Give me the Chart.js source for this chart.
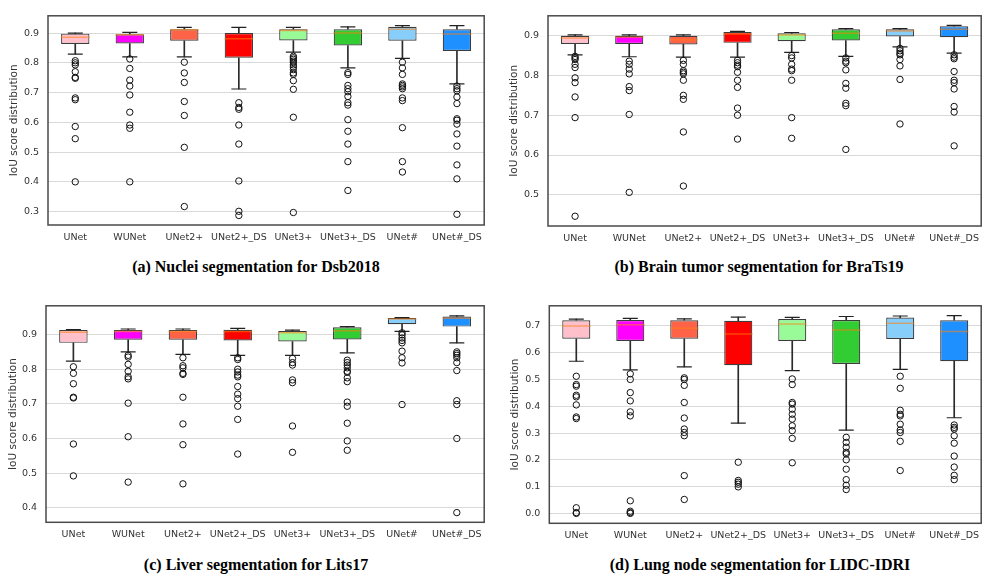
<!DOCTYPE html>
<html>
<head>
<meta charset="utf-8">
<script src="https://cdn.jsdelivr.net/npm/chart.js@4.4.1/dist/chart.umd.min.js"></script>
<style>
  html, body { margin: 0; padding: 0; background: #fff; }
  body { width: 997px; height: 583px; position: relative; overflow: hidden; }
  .panel { position: absolute; }
  .cap { position: absolute; font-family: "Liberation Serif", "Times New Roman", serif; font-weight: bold; font-size: 16px; color: #000; white-space: nowrap; transform: translateX(-50%); }
</style>
</head>
<body>
<div class="panel" style="left:0;top:0;width:500px;height:250px"><canvas id="ca"></canvas></div>
<div class="panel" style="left:500px;top:0;width:497px;height:250px"><canvas id="cb"></canvas></div>
<div class="panel" style="left:0;top:290px;width:500px;height:250px"><canvas id="cc"></canvas></div>
<div class="panel" style="left:500px;top:290px;width:497px;height:250px"><canvas id="cd"></canvas></div>
<div class="cap" style="left:256px;top:258px">(a) Nuclei segmentation for Dsb2018</div>
<div class="cap" style="left:759px;top:258px">(b) Brain tumor segmentation for BraTs19</div>
<div class="cap" style="left:256px;top:556px">(c) Liver segmentation for Lits17</div>
<div class="cap" style="left:760px;top:556px">(d) Lung node segmentation for LIDC-IDRI</div>
<script>
// ---------------- DATA ----------------
const categories = ['UNet', 'WUNet', 'UNet2+', 'UNet2+_DS', 'UNet3+', 'UNet3+_DS', 'UNet#', 'UNet#_DS'];
const boxColors = ['#FFC0CB', '#FF00FF', '#FF6347', '#FF0000', '#98FB98', '#32CD32', '#87CEFA', '#1E90FF'];
const yTitle = 'IoU score distribution';

// (a) Dsb2018
const aTicks = [0.3, 0.4, 0.5, 0.6, 0.7, 0.8, 0.9];
const aLow = [0.829, 0.820, 0.820, 0.712, 0.836, 0.783, 0.815, 0.729];
const aQ1 = [0.863, 0.865, 0.874, 0.817, 0.875, 0.858, 0.874, 0.840];
const aMed = [0.886, 0.894, 0.911, 0.881, 0.909, 0.900, 0.913, 0.897];
const aQ3 = [0.898, 0.896, 0.913, 0.900, 0.913, 0.913, 0.921, 0.913];
const aHigh = [0.900, 0.902, 0.919, 0.919, 0.919, 0.921, 0.925, 0.925];
const aOut = [
  [0.807, 0.800, 0.793, 0.770, 0.751, 0.748, 0.682, 0.676, 0.586, 0.545, 0.400],
  [0.813, 0.781, 0.742, 0.722, 0.692, 0.634, 0.591, 0.580, 0.400],
  [0.802, 0.766, 0.734, 0.670, 0.623, 0.516, 0.317],
  [0.666, 0.650, 0.644, 0.591, 0.527, 0.403, 0.301, 0.287],
  [0.822, 0.817, 0.812, 0.806, 0.801, 0.793, 0.786, 0.777, 0.766, 0.761, 0.740, 0.711, 0.617, 0.297],
  [0.767, 0.761, 0.724, 0.713, 0.703, 0.687, 0.666, 0.658, 0.609, 0.570, 0.527, 0.468, 0.371],
  [0.802, 0.783, 0.761, 0.729, 0.724, 0.719, 0.713, 0.682, 0.673, 0.582, 0.468, 0.433],
  [0.722, 0.713, 0.706, 0.685, 0.663, 0.612, 0.607, 0.594, 0.561, 0.520, 0.457, 0.410, 0.291]
];

// (b) BraTs19
const bTicks = [0.5, 0.6, 0.7, 0.8, 0.9];
const bLow = [0.852, 0.847, 0.846, 0.846, 0.858, 0.848, 0.872, 0.856];
const bQ1 = [0.879, 0.879, 0.878, 0.882, 0.886, 0.888, 0.898, 0.896];
const bMed = [0.894, 0.896, 0.890, 0.904, 0.902, 0.906, 0.912, 0.916];
const bQ3 = [0.900, 0.900, 0.900, 0.909, 0.906, 0.916, 0.916, 0.924];
const bHigh = [0.902, 0.902, 0.902, 0.911, 0.908, 0.918, 0.918, 0.926];
const bOut = [
  [0.848, 0.844, 0.840, 0.828, 0.820, 0.794, 0.782, 0.746, 0.694, 0.446],
  [0.836, 0.828, 0.816, 0.804, 0.772, 0.762, 0.702, 0.506],
  [0.838, 0.828, 0.812, 0.808, 0.804, 0.788, 0.750, 0.740, 0.658, 0.522],
  [0.838, 0.832, 0.826, 0.822, 0.808, 0.788, 0.770, 0.718, 0.700, 0.640],
  [0.850, 0.844, 0.828, 0.816, 0.812, 0.788, 0.694, 0.642],
  [0.844, 0.836, 0.832, 0.814, 0.780, 0.768, 0.730, 0.724, 0.614],
  [0.868, 0.862, 0.856, 0.852, 0.840, 0.824, 0.790, 0.678],
  [0.852, 0.846, 0.842, 0.810, 0.788, 0.782, 0.766, 0.722, 0.708, 0.623]
];

// (c) Lits17
const cTicks = [0.4, 0.5, 0.6, 0.7, 0.8, 0.9];
const cLow = [0.823, 0.850, 0.843, 0.840, 0.840, 0.847, 0.909, 0.876];
const cQ1 = [0.876, 0.885, 0.885, 0.883, 0.880, 0.886, 0.930, 0.923];
const cMed = [0.907, 0.909, 0.909, 0.909, 0.905, 0.911, 0.945, 0.947];
const cQ3 = [0.913, 0.913, 0.913, 0.914, 0.910, 0.921, 0.948, 0.952];
const cHigh = [0.914, 0.916, 0.916, 0.918, 0.913, 0.923, 0.949, 0.954];
const cOut = [
  [0.807, 0.788, 0.758, 0.719, 0.717, 0.584, 0.492],
  [0.840, 0.835, 0.814, 0.794, 0.778, 0.772, 0.702, 0.605, 0.474],
  [0.833, 0.810, 0.804, 0.788, 0.785, 0.719, 0.642, 0.582, 0.469],
  [0.833, 0.828, 0.800, 0.792, 0.783, 0.778, 0.750, 0.728, 0.715, 0.693, 0.655, 0.555],
  [0.831, 0.819, 0.812, 0.769, 0.761, 0.636, 0.560],
  [0.826, 0.819, 0.812, 0.804, 0.794, 0.791, 0.775, 0.764, 0.705, 0.693, 0.644, 0.593, 0.566],
  [0.905, 0.899, 0.890, 0.883, 0.876, 0.852, 0.833, 0.818, 0.698],
  [0.850, 0.845, 0.840, 0.833, 0.819, 0.796, 0.709, 0.698, 0.600, 0.386]
];

// (d) LIDC-IDRI
const dTicks = [0.0, 0.1, 0.2, 0.3, 0.4, 0.5, 0.6, 0.7];
const dLow = [0.568, 0.536, 0.547, 0.337, 0.533, 0.311, 0.538, 0.357];
const dQ1 = [0.652, 0.644, 0.652, 0.553, 0.644, 0.558, 0.651, 0.568];
const dMed = [0.700, 0.704, 0.691, 0.670, 0.707, 0.685, 0.710, 0.679];
const dQ3 = [0.721, 0.722, 0.721, 0.719, 0.726, 0.722, 0.731, 0.721];
const dHigh = [0.725, 0.728, 0.726, 0.733, 0.732, 0.735, 0.737, 0.738];
const dOut = [
  [0.512, 0.481, 0.475, 0.441, 0.435, 0.405, 0.360, 0.354, 0.021, 0.003, 0.000],
  [0.521, 0.500, 0.451, 0.420, 0.379, 0.364, 0.047, 0.008, 0.003, 0.000],
  [0.506, 0.500, 0.478, 0.414, 0.356, 0.315, 0.302, 0.290, 0.141, 0.052],
  [0.191, 0.123, 0.116, 0.109, 0.099],
  [0.502, 0.481, 0.414, 0.408, 0.389, 0.370, 0.352, 0.327, 0.309, 0.280, 0.189],
  [0.284, 0.265, 0.247, 0.228, 0.222, 0.200, 0.165, 0.126, 0.105, 0.089],
  [0.512, 0.467, 0.385, 0.370, 0.364, 0.333, 0.311, 0.302, 0.269, 0.160],
  [0.330, 0.321, 0.315, 0.290, 0.262, 0.214, 0.173, 0.142, 0.126]
];

// ---------------- CHARTS ----------------
const frame = {
  id: 'frame',
  afterDraw(chart) {
    const a = chart.chartArea, ctx = chart.ctx;
    ctx.save();
    ctx.strokeStyle = '#4a4a4a';
    ctx.lineWidth = 1.5;
    ctx.strokeRect(a.left, a.top, a.right - a.left, a.bottom - a.top);
    ctx.restore();
  }
};

function makePanel(id, w, h, area, ymin, ymax, ticks, low, q1, med, q3, high, out, titlePad) {
  const cv = document.getElementById(id);
  cv.width = w; cv.height = h;
  const pairs = (a, b) => a.map((v, i) => [v, b[i]]);
  const pts = arr => arr.map((v, i) => ({ x: categories[i], y: v }));
  const outPts = out.flatMap((vals, i) => vals.map(v => ({ x: categories[i], y: v })));
  new Chart(cv, {
    type: 'bar',
    data: {
      labels: categories,
      datasets: [
        { type: 'line', data: outPts, showLine: false, pointStyle: 'circle', pointRadius: 3.2,
          pointBackgroundColor: 'rgba(0,0,0,0)', pointBorderColor: '#111', pointBorderWidth: 1, order: 0 },
        { type: 'line', data: pts(med), showLine: false, pointStyle: 'line', pointRadius: 14.3,
          pointBorderColor: 'rgba(255,127,14,0.55)', pointBorderWidth: 1.5, order: 1 },
        { type: 'line', data: pts(low), showLine: false, pointStyle: 'line', pointRadius: 7.5,
          pointBorderColor: '#222', pointBorderWidth: 1.2, order: 2 },
        { type: 'line', data: pts(high), showLine: false, pointStyle: 'line', pointRadius: 7.5,
          pointBorderColor: '#222', pointBorderWidth: 1.2, order: 2 },
        { type: 'bar', data: pairs(q1, q3), backgroundColor: boxColors, borderColor: '#3c3c3c',
          borderWidth: 1.2, borderSkipped: false, barPercentage: 0.52, categoryPercentage: 1,
          grouped: false, order: 3 },
        { type: 'bar', data: pairs(low, q1), backgroundColor: '#2a2a2a', barThickness: 1,
          grouped: false, order: 4 },
        { type: 'bar', data: pairs(q3, high), backgroundColor: '#2a2a2a', barThickness: 1,
          grouped: false, order: 4 }
      ]
    },
    options: {
      responsive: false,
      animation: false,
      events: [],
      layout: { padding: { left: 0, top: area.t, right: w - area.r, bottom: 0 } },
      plugins: { legend: { display: false }, tooltip: { enabled: false } },
      scales: {
        x: {
          type: 'category',
          offset: true,
          grid: { display: false, drawTicks: false },
          border: { display: false },
          ticks: { color: '#333', font: { family: 'DejaVu Sans', size: 9.5 }, padding: 7, maxRotation: 0, autoSkip: false },
          afterFit(s) { s.height = h - area.b; }
        },
        y: {
          type: 'linear',
          min: ymin, max: ymax,
          grid: { color: '#d9d9d9', lineWidth: 1, drawTicks: false },
          border: { display: false },
          ticks: { color: '#333', font: { family: 'DejaVu Sans', size: 9.5 }, padding: 9,
                   callback: v => v.toFixed(1) },
          afterBuildTicks(s) { s.ticks = ticks.map(v => ({ value: v })); },
          title: { display: true, text: yTitle, color: '#333', font: { family: 'DejaVu Sans', size: 10.5 },
                   padding: { top: titlePad, bottom: 0 } },
          afterFit(s) { s.width = area.l; }
        }
      }
    },
    plugins: [frame]
  });
}

makePanel('ca', 500, 250, { l: 48, r: 498, t: 5, b: 225 }, 0.255, 0.958, aTicks, aLow, aQ1, aMed, aQ3, aHigh, aOut, 8);
makePanel('cb', 497, 250, { l: 48, r: 497, t: 6, b: 226 }, 0.4215, 0.950, bTicks, bLow, bQ1, bMed, bQ3, bHigh, bOut, 8);
makePanel('cc', 500, 250, { l: 46, r: 498, t: 13.3, b: 232.3 }, 0.358, 0.983, cTicks, cLow, cQ1, cMed, cQ3, cHigh, cOut, 7);
makePanel('cd', 497, 250, { l: 49.3, r: 497, t: 14, b: 233.3 }, -0.037, 0.775, dTicks, dLow, dQ1, dMed, dQ3, dHigh, dOut, 9);
</script>
</body>
</html>
